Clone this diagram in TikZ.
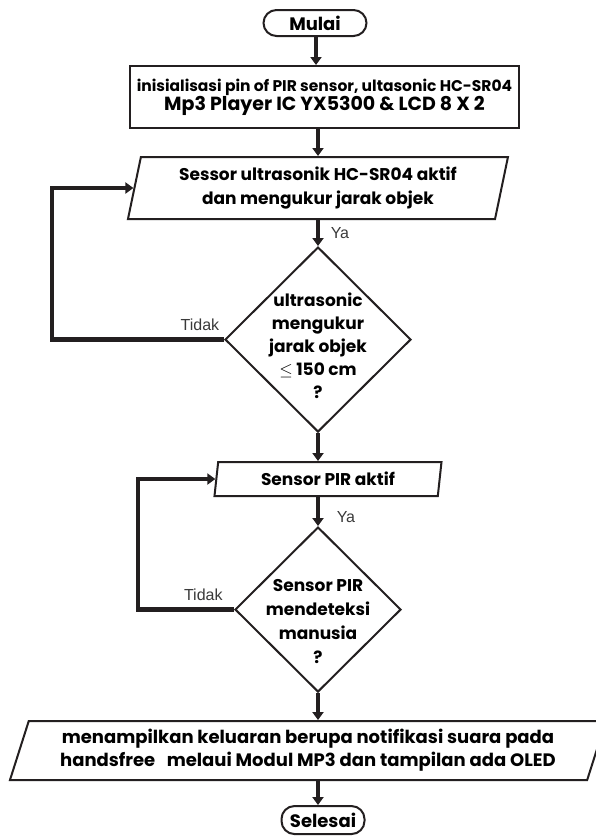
\documentclass[tikz,border=0pt]{standalone}
\usepackage{fontspec}
\setmainfont{Poppins}
\newfontfamily\lblfont{Liberation Sans}
\usetikzlibrary{positioning,arrows.meta,calc,shapes.geometric}

\definecolor{ink}{HTML}{231F20}
\definecolor{lblgray}{HTML}{3A3A3A}

\begin{document}
\begin{tikzpicture}[
  x=1pt, y=1pt,
  term/.style={draw=ink,line width=2pt,rounded corners=13pt,font=\fontsize{18}{20}\selectfont\bfseries,
               minimum height=26pt,inner sep=0pt},
  proc/.style={draw=ink,line width=2pt,align=center,inner sep=0pt,
               minimum width=389pt,minimum height=62pt},
  io/.style={trapezium,trapezium left angle=73,trapezium right angle=107,trapezium stretches body,
             draw=ink,line width=2pt,align=center,inner sep=0pt,font=\fontsize{17}{24}\selectfont\bfseries},
  dec/.style={diamond,draw=ink,line width=2pt,inner sep=0pt},
  dectext/.style={align=center,font=\fontsize{17}{23}\selectfont\bfseries,inner sep=0pt},
  arr/.style={-{Triangle[length=8pt,width=11pt]},line width=3.5pt,ink},
  back/.style={-{Triangle[length=8pt,width=11pt]},line width=4.5pt,ink},
  tlabel/.style={font=\lblfont\fontsize{16}{18}\selectfont,text=lblgray,inner sep=1pt},
]
  \useasboundingbox (0,0) rectangle (596,-838);

  \node[term,minimum width=103pt] (start) at (315,-23) {Mulai};

  \node[proc,below=28pt of start,xshift=9.5pt] (init)
    {{\fontsize{15.5}{20}\selectfont\bfseries inisialisasi pin of PIR sensor, ultasonic HC-SR04}\\
     {\fontsize{19}{20}\selectfont\bfseries Mp3 Player IC YX5300 \& LCD 8 X 2}};

  \node[io,minimum width=380pt,minimum height=62pt,below=27pt of init,xshift=-6.5pt] (sens1)
    {Sessor ultrasonik HC-SR04 aktif\\dan mengukur jarak objek};

  \node[dec,minimum width=186pt,minimum height=185pt,below=26pt of sens1] (cek1) {};
  \node[dectext,yshift=-6pt] at (cek1) {ultrasonic\\mengukur\\jarak objek\\$\leq$ 150 cm\\?};

  \node[io,minimum width=227pt,minimum height=34pt,trapezium left angle=75,trapezium right angle=105,
        below=28pt of cek1,xshift=10pt] (sens2) {Sensor PIR aktif};

  \node[dec,minimum width=166pt,minimum height=165pt,below=29pt of sens2,xshift=-10pt] (cek2) {};
  \node[dectext,font=\fontsize{17}{24}\selectfont\bfseries,yshift=-12pt] at (cek2)
    {Sensor PIR\\mendeteksi\\manusia\\?};

  \node[io,minimum width=596pt,minimum height=59pt,trapezium left angle=66,trapezium right angle=114,
        font=\fontsize{18}{23}\selectfont\bfseries,below=27pt of cek2,xshift=-10pt] (out)
    {menampilkan keluaran berupa notifikasi suara pada\\handsfree\ \ \ melaui Modul MP3 dan tampilan ada OLED};

  \node[term,minimum width=83pt,minimum height=28pt,below=24pt of out,xshift=15pt] (stop) {Selesai};

  % alur utama
  \draw[arr] (start.south -| 316,0) -- (init.north -| 316,0);
  \draw[arr] (init.south -| cek1.north) -- (sens1.north -| cek1.north);
  \draw[arr] (sens1.south -| cek1.north) -- node[tlabel,right=10pt] {Ya} (cek1.north);
  \draw[arr] (cek1.south) -- (sens2.north -| cek1.south);
  \draw[arr] (sens2.south -| cek2.north) -- node[tlabel,right=16pt,pos=0.7] {Ya} (cek2.north);
  \draw[arr] (cek2.south) -- (out.north -| cek2.south);
  \draw[arr] (out.south -| cek2.south) -- (stop.north -| cek2.south);

  % kembali bila tidak
  \draw[back] (cek1.west) -- node[tlabel,pos=0.14,above=6pt] {Tidak} ++(-172,0) |- (sens1.west);
  \draw[back] (cek2.west) -- node[tlabel,pos=0.32,above=6pt] {Tidak} ++(-96,0) |- (sens2.west);
\end{tikzpicture}
\end{document}
